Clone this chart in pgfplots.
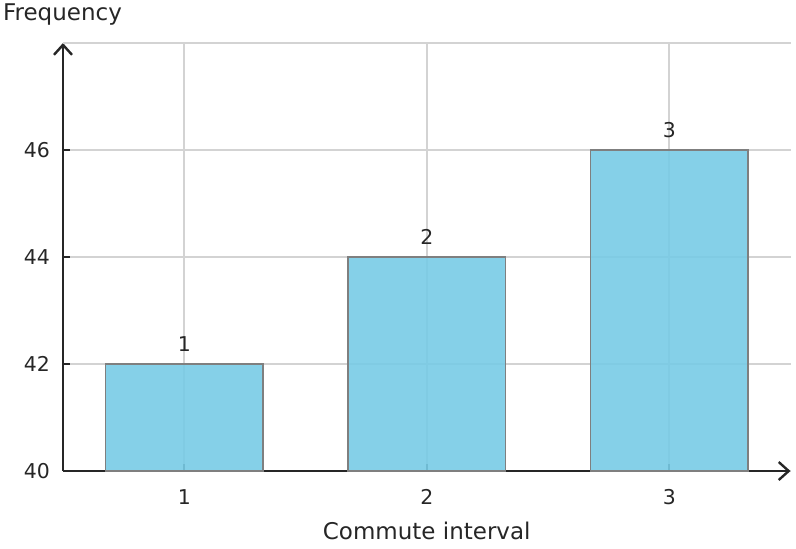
\documentclass[border=0pt]{standalone}
\usepackage{pgfplots}
\pgfplotsset{compat=1.18}
\usepackage{fontspec}
\setmainfont{DejaVu Sans}
\usetikzlibrary{arrows.meta}
\definecolor{barfill}{HTML}{78CBE5}
\definecolor{baredge}{HTML}{7F7F7F}
\definecolor{txt}{HTML}{262626}
\definecolor{gridc}{HTML}{D3D3D3}
\begin{document}
\begin{tikzpicture}
\begin{axis}[
  ybar, bar width=0.65, bar shift=0pt,
  scale only axis,
  width=363.75pt, height=214pt,
  xmin=0.5, xmax=3.5,
  ymin=40, ymax=48,
  axis lines=left,
  axis line style={txt, line width=1.25pt, -{Straight Barb[length=5pt,width=9pt,line width=1.2pt]}},
  xtick={1,2,3},
  ytick={40,42,44,46},
  extra y ticks={48},
  extra y tick labels={},
  extra y tick style={major tick length=0pt, grid=major},
  grid=major,
  major grid style={gridc, line width=0.8pt},
  tick style={txt, line width=1pt},
  major tick length=3.5pt,
  tick align=inside, xtick align=inside,
  /pgf/number format/assume math mode=true,
  tick label style={font=\fontsize{10.2}{12}\selectfont, text=txt},
  xticklabel style={anchor=base, yshift=-16.5pt},
  yticklabel style={xshift=-3pt},
  every axis x label/.style={at={(rel axis cs:0.5,0)}, anchor=base, yshift=-34pt, font=\fontsize{11.5}{13}\selectfont, text=txt},
  every axis y label/.style={at={(rel axis cs:0,1)}, anchor=base west, xshift=-33.5pt, yshift=11.5pt, font=\fontsize{11.5}{13}\selectfont, text=txt},
  xlabel={Commute interval},
  ylabel={Frequency},
  nodes near coords,
  nodes near coords align={vertical},
  point meta=x,
  every node near coord/.append style={anchor=south, yshift=2.5pt, font=\fontsize{10.2}{12}\selectfont, text=txt, /pgf/number format/assume math mode=true},
  clip=false,
]
\coordinate (O) at (rel axis cs:0,0);
\addplot[fill=barfill, fill opacity=0.9, draw=baredge, line width=0.9pt, text opacity=1]
  coordinates {(1,42) (2,44) (3,46)};
\end{axis}
\pgfresetboundingbox
\path[use as bounding box] ([shift={(-31.5pt,-38.5pt)}]O) rectangle ++(398pt,274pt);
\end{tikzpicture}
\end{document}
